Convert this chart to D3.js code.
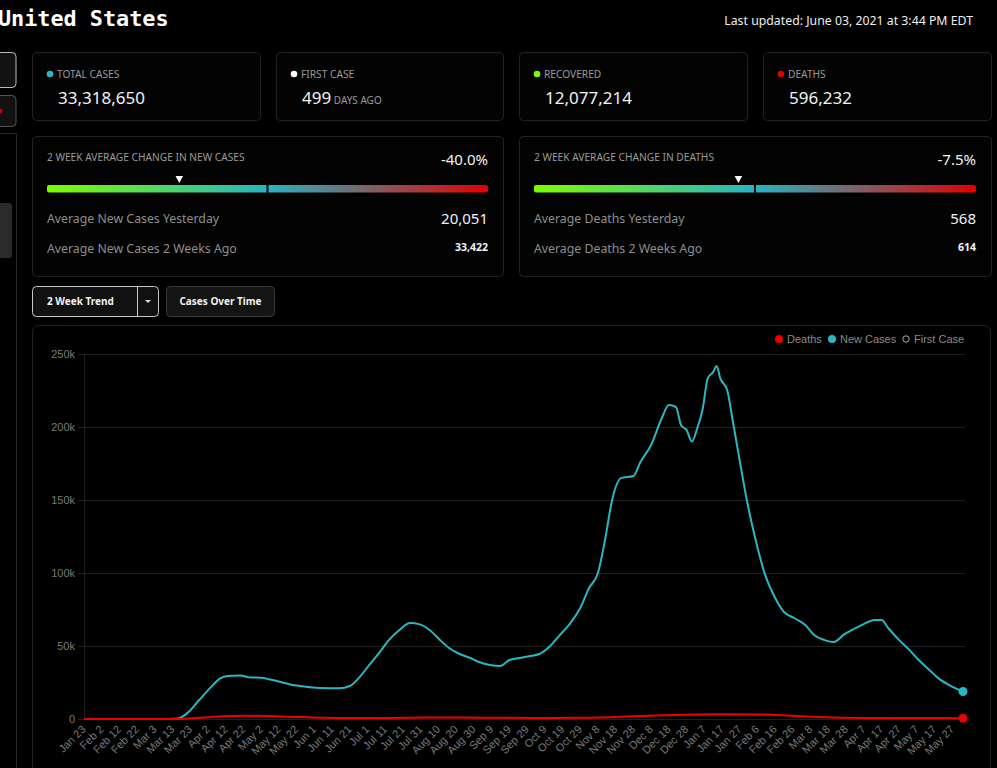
<!DOCTYPE html>
<html><head><meta charset="utf-8">
<script src="https://cdn.jsdelivr.net/npm/d3@7/dist/d3.min.js"></script>
<style>html,body{margin:0;padding:0;background:#000;overflow:hidden}svg{display:block}</style>
</head><body>
<script>
// ---------- data ----------
const caseDates = ["2020-01-23","2020-03-11","2020-03-16","2020-03-22","2020-03-28","2020-04-03","2020-04-09","2020-04-13","2020-04-20","2020-04-26","2020-05-02","2020-05-07","2020-05-13","2020-05-19","2020-05-24","2020-06-04","2020-06-15","2020-06-21","2020-06-26","2020-07-02","2020-07-08","2020-07-13","2020-07-19","2020-07-25","2020-07-30","2020-08-05","2020-08-11","2020-08-16","2020-08-22","2020-08-28","2020-09-02","2020-09-08","2020-09-14","2020-09-19","2020-09-25","2020-09-30","2020-10-06","2020-10-12","2020-10-17","2020-10-23","2020-10-29","2020-11-03","2020-11-08","2020-11-12","2020-11-16","2020-11-21","2020-11-28","2020-12-02","2020-12-08","2020-12-14","2020-12-18","2020-12-22","2020-12-25","2020-12-28","2020-12-31","2021-01-03","2021-01-06","2021-01-09","2021-01-12","2021-01-14","2021-01-16","2021-01-20","2021-01-23","2021-01-27","2021-01-31","2021-02-05","2021-02-10","2021-02-16","2021-02-21","2021-02-27","2021-03-05","2021-03-10","2021-03-16","2021-03-21","2021-03-27","2021-04-02","2021-04-07","2021-04-13","2021-04-17","2021-04-21","2021-04-27","2021-05-03","2021-05-08","2021-05-14","2021-05-19","2021-05-25","2021-06-02"];
const newCases = [0,0,300,4800,13000,21000,28000,29500,29800,28500,28300,27000,25300,23500,22600,21200,21000,22600,28000,37000,46000,54000,61000,65700,65000,61000,54000,48600,44500,41800,39000,37000,36300,40400,41800,43000,44500,50000,56800,65000,76000,89700,100000,122600,150000,165000,166400,176000,187700,206000,215000,213700,201000,198000,190000,199000,211600,233500,237600,241800,233500,225000,204800,177000,150000,122600,100000,82900,73300,69000,64400,57500,54000,52700,58000,62000,65000,67800,67800,62000,54000,47000,40400,33600,28000,23300,18800];
const deathDates = ["2020-01-23","2020-03-15","2020-03-28","2020-04-10","2020-04-22","2020-05-05","2020-05-25","2020-06-20","2020-07-10","2020-08-05","2020-09-01","2020-10-01","2020-10-25","2020-11-15","2020-12-10","2021-01-15","2021-02-10","2021-02-25","2021-03-20","2021-04-15","2021-05-10","2021-06-02"];
const deaths = [0,0,800,1800,2200,2000,1300,650,700,1100,900,750,800,1200,2400,3300,3000,2200,1100,720,650,568];
const xTickDates = ["2020-01-23","2020-02-02","2020-02-12","2020-02-22","2020-03-03","2020-03-13","2020-03-23","2020-04-02","2020-04-12","2020-04-22","2020-05-02","2020-05-12","2020-05-22","2020-06-01","2020-06-11","2020-06-21","2020-07-01","2020-07-11","2020-07-21","2020-07-31","2020-08-10","2020-08-20","2020-08-30","2020-09-09","2020-09-19","2020-09-29","2020-10-09","2020-10-19","2020-10-29","2020-11-08","2020-11-18","2020-11-28","2020-12-08","2020-12-18","2020-12-28","2021-01-07","2021-01-17","2021-01-27","2021-02-06","2021-02-16","2021-02-26","2021-03-08","2021-03-18","2021-03-28","2021-04-07","2021-04-17","2021-04-27","2021-05-07","2021-05-17","2021-05-27"];
const yTicks = [0,50000,100000,150000,200000,250000];
const statLabels = ["TOTAL CASES","FIRST CASE","RECOVERED","DEATHS"];
const statValues = ["33,318,650","499","12,077,214","596,232"];
const statColors = ["#2ab7c1","#ffffff","#7cfc00","#e00000"];
const trendTitles = ["2 WEEK AVERAGE CHANGE IN NEW CASES","2 WEEK AVERAGE CHANGE IN DEATHS"];
const trendPct = ["-40.0%","-7.5%"];
const trendPctValues = [-40.0,-7.5];
const trendRowLabels = [["Average New Cases Yesterday","Average New Cases 2 Weeks Ago"],["Average Deaths Yesterday","Average Deaths 2 Weeks Ago"]];
const trendRowValues = [["20,051","33,422"],["568","614"]];
const legendNames = ["Deaths","New Cases","First Case"];

// ---------- drawing ----------
const W = 997, H = 768;
const svg = d3.select("body").append("svg").attr("width", W).attr("height", H);
const defs = svg.append("defs");
const SANS = "'Noto Sans', 'Open Sans', sans-serif";
const ARIAL = "'Liberation Sans', Arial, sans-serif";

svg.append("rect").attr("width", W).attr("height", H).attr("fill", "#000");

// title
svg.append("text").attr("x", -2).attr("y", 26).text("United States")
  .attr("font-family", "'DejaVu Sans Mono', monospace").attr("font-weight", "bold")
  .attr("font-size", 21.8).attr("fill", "#fff");
svg.append("text").attr("x", 973).attr("y", 25).attr("text-anchor", "end")
  .text("Last updated: June 03, 2021 at 3:44 PM EDT")
  .attr("font-family", SANS).attr("font-size", 12.3).attr("fill", "#eee");

// left sidebar remnants
svg.append("rect").attr("x", -10).attr("y", 52.5).attr("width", 26).attr("height", 35).attr("rx", 4)
  .attr("fill", "#121212").attr("stroke", "#bdbdbd");
svg.append("rect").attr("x", -10).attr("y", 95.5).attr("width", 26).attr("height", 31).attr("rx", 4)
  .attr("fill", "#121212").attr("stroke", "#555");
svg.append("circle").attr("cx", 0).attr("cy", 111).attr("r", 2.5).attr("fill", "#c00");
svg.append("path").attr("d", "M-1,133.5H16.5V768").attr("fill", "none").attr("stroke", "#2a2a2a");
svg.append("rect").attr("x", -6).attr("y", 203).attr("width", 18).attr("height", 55).attr("rx", 3).attr("fill", "#2b2b2b");

// stat cards
const cardX = [32, 276, 519, 763], cardW = [228, 227, 228, 228];
cardX.forEach((x, i) => {
  const g = svg.append("g");
  g.append("rect").attr("x", x + 0.5).attr("y", 52.5).attr("width", cardW[i]).attr("height", 68).attr("rx", 4)
    .attr("fill", "#030303").attr("stroke", "#222");
  g.append("circle").attr("cx", x + 18).attr("cy", 74).attr("r", 3.3).attr("fill", statColors[i]);
  g.append("text").attr("x", x + 25).attr("y", 77.5).text(statLabels[i])
    .attr("font-family", SANS).attr("font-size", 10.2).attr("fill", "#9a9a9a");
  const t = g.append("text").attr("x", x + 26).attr("y", 104)
    .attr("font-family", SANS).attr("font-size", 17).attr("fill", "#f2f2f2");
  t.append("tspan").text(statValues[i]);
  if (i === 1) t.append("tspan").text(" DAYS AGO").attr("font-size", 10).attr("fill", "#9a9a9a");
});

// trend cards
const tX = [32, 519], tW = [471, 472];
const pctScale = d3.scaleLinear().domain([-100, 100]);
tX.forEach((x, i) => {
  const g = svg.append("g");
  g.append("rect").attr("x", x + 0.5).attr("y", 136.5).attr("width", tW[i]).attr("height", 140).attr("rx", 4)
    .attr("fill", "#030303").attr("stroke", "#222");
  const x0 = x + 15, x1 = x + tW[i] - 15;
  g.append("text").attr("x", x0).attr("y", 161).text(trendTitles[i])
    .attr("font-family", SANS).attr("font-size", 10.2).attr("fill", "#9a9a9a");
  g.append("text").attr("x", x1).attr("y", 165).attr("text-anchor", "end").text(trendPct[i])
    .attr("font-family", SANS).attr("font-size", 15).attr("fill", "#f2f2f2");
  const gid = "grad" + i;
  const gr = defs.append("linearGradient").attr("id", gid).attr("gradientUnits", "userSpaceOnUse")
    .attr("x1", x0).attr("x2", x1).attr("y1", 0).attr("y2", 0);
  [[0, "#7cfc00"], [0.5, "#27b4c2"], [1, "#e30000"]].forEach(s =>
    gr.append("stop").attr("offset", s[0]).attr("stop-color", s[1]));
  const mid = (x0 + x1) / 2;
  g.append("rect").attr("x", x0).attr("y", 185).attr("width", x1 - x0).attr("height", 7.5).attr("rx", 2)
    .attr("fill", `url(#${gid})`);
  g.append("rect").attr("x", mid - 1).attr("y", 184).attr("width", 2).attr("height", 10).attr("fill", "#000");
  pctScale.range([x0, x1]);
  const mx = pctScale(trendPctValues[i]);
  g.append("path").attr("d", `M${mx - 3.8},176L${mx + 3.8},176L${mx},183Z`).attr("fill", "#fff");
  trendRowLabels[i].forEach((lab, j) => {
    g.append("text").attr("x", x0).attr("y", 223 + j * 30).text(lab)
      .attr("font-family", SANS).attr("font-size", 12.3).attr("fill", "#8e8e8e");
  });
  g.append("text").attr("x", x1).attr("y", 224).attr("text-anchor", "end").text(trendRowValues[i][0])
    .attr("font-family", SANS).attr("font-size", 15).attr("fill", "#f2f2f2");
  g.append("text").attr("x", x1).attr("y", 251).attr("text-anchor", "end").text(trendRowValues[i][1])
    .attr("font-family", SANS).attr("font-size", 10.5).attr("font-weight", "bold").attr("fill", "#f2f2f2");
});

// buttons
svg.append("rect").attr("x", 32.5).attr("y", 286.5).attr("width", 126).attr("height", 30).attr("rx", 4)
  .attr("fill", "#111").attr("stroke", "#c8c8c8");
svg.append("line").attr("x1", 137.5).attr("x2", 137.5).attr("y1", 287).attr("y2", 316).attr("stroke", "#c8c8c8");
svg.append("path").attr("d", "M145,300H151L148,303Z").attr("fill", "#ddd");
svg.append("text").attr("x", 47).attr("y", 305).text("2 Week Trend")
  .attr("font-family", SANS).attr("font-size", 10).attr("font-weight", "bold").attr("fill", "#f0f0f0");
svg.append("rect").attr("x", 166.5).attr("y", 286.5).attr("width", 108).attr("height", 30).attr("rx", 4)
  .attr("fill", "#141414").attr("stroke", "#3a3a3a");
svg.append("text").attr("x", 220.5).attr("y", 305).attr("text-anchor", "middle").text("Cases Over Time")
  .attr("font-family", SANS).attr("font-size", 10).attr("font-weight", "bold").attr("fill", "#f0f0f0");

// chart panel
svg.append("rect").attr("x", 32.5).attr("y", 325.5).attr("width", 958).attr("height", 470).attr("rx", 6)
  .attr("fill", "#000").attr("stroke", "#222");

const parse = d3.utcParse("%Y-%m-%d");
const x = d3.scaleUtc().domain([parse("2020-01-23"), parse("2021-06-02")]).range([84, 963]);
const y = d3.scaleLinear().domain([0, 250000]).range([719, 354]);

// y grid + labels
const yAxis = d3.axisLeft(y).tickValues(yTicks).tickSize(-(965 - 78) + 6).tickPadding(9)
  .tickFormat(v => v === 0 ? "0" : (v / 1000) + "k");
const yg = svg.append("g").attr("transform", "translate(84,0)").call(yAxis);
yg.select(".domain").remove();
yg.selectAll(".tick line").attr("x1", -6).attr("stroke", "#1f1f1f");
yg.selectAll(".tick text").attr("font-family", ARIAL).attr("font-size", 11).attr("fill", "#7a7a7a");
svg.append("line").attr("x1", 84.5).attr("x2", 84.5).attr("y1", 354).attr("y2", 719).attr("stroke", "#1f1f1f");

// x labels
const xAxis = d3.axisBottom(x).tickValues(xTickDates.map(parse)).tickSize(0).tickFormat(d3.utcFormat("%b %-d"));
const xg = svg.append("g").attr("transform", "translate(0,719)").call(xAxis);
xg.select(".domain").remove();
xg.selectAll(".tick text").attr("font-family", ARIAL).attr("font-size", 11).attr("fill", "#7a7a7a")
  .attr("text-anchor", "end").attr("dy", 0).attr("y", 0)
  .attr("transform", "translate(2,11) rotate(-45)");

// lines
const caseData = caseDates.map((d, i) => ({ d: parse(d), v: newCases[i] }));
const deathData = deathDates.map((d, i) => ({ d: parse(d), v: deaths[i] }));
const line = d3.line().x(p => x(p.d)).y(p => y(p.v)).curve(d3.curveMonotoneX);
svg.append("path").datum(caseData).attr("d", line).attr("fill", "none").attr("stroke", "#2ab7c1").attr("stroke-width", 2);
svg.append("path").datum(deathData).attr("d", line).attr("fill", "none").attr("stroke", "#ee0000").attr("stroke-width", 2);
const lastC = caseData[caseData.length - 1], lastD = deathData[deathData.length - 1];
svg.append("circle").attr("cx", x(lastC.d)).attr("cy", y(lastC.v)).attr("r", 4.5).attr("fill", "#2ab7c1");
svg.append("circle").attr("cx", x(lastD.d)).attr("cy", y(lastD.v)).attr("r", 4.5).attr("fill", "#ee0000");

// legend
const legX = [779, 832, 906], legColors = ["#ee0000", "#2ab7c1", null];
legendNames.forEach((n, i) => {
  if (legColors[i]) svg.append("circle").attr("cx", legX[i]).attr("cy", 339).attr("r", 4).attr("fill", legColors[i]);
  else svg.append("circle").attr("cx", legX[i]).attr("cy", 339).attr("r", 3.2).attr("fill", "none").attr("stroke", "#aaa");
  svg.append("text").attr("x", legX[i] + 8).attr("y", 343).text(n)
    .attr("font-family", ARIAL).attr("font-size", 11).attr("fill", "#8a8a8a");
});
</script>
</body></html>
